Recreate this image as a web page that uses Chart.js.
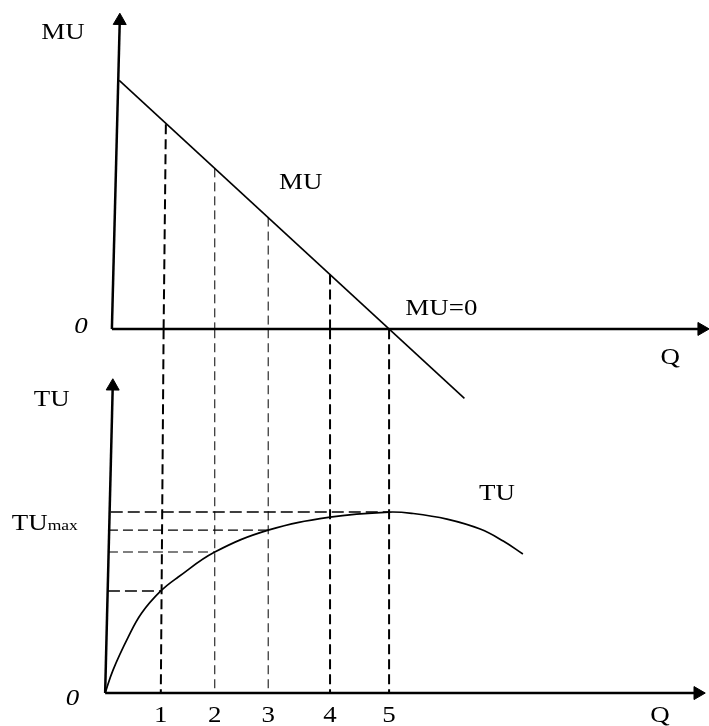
<!DOCTYPE html>
<html>
<head>
<meta charset="utf-8">
<script src="https://cdn.jsdelivr.net/npm/chart.js@4.4.0/dist/chart.umd.min.js"></script>
<style>
  body { margin: 0; background: #fff; }
  #wrap { width: 709px; height: 726px; }
</style>
</head>
<body>
<div id="wrap"><canvas id="chart"></canvas></div>
<script>
// Q positions of the five dashed guides (guide 1 leans a little)
const qTicks = ['1', '2', '3', '4', '5'];
const qTop = [1.03, 1.90, 2.85, 3.95, 5.00];
const qMid = [0.99, 1.90, 2.85, 3.95, 5.00];
const qBottom = [0.94, 1.90, 2.85, 3.95, 5.00];
const heavyGuide = [true, false, false, true, true];

// MU panel
const muLineQ = [0.2, 6.34];
const muLineVal = [9.6, -2.68];
const muAtGuide = [7.9, 6.2, 4.3, 2.1, 0];

// TU panel
const tuQ = [-0.05, 0.09, 0.36, 0.60, 0.94, 1.25, 1.90, 2.85, 3.95, 5.00, 5.43, 6.03, 6.62, 7.03, 7.38];
const tuVal = [0, 1.27, 3.09, 4.42, 5.64, 6.41, 7.79, 9.0, 9.72, 10.0, 9.92, 9.61, 9.06, 8.40, 7.68];
const tuLevelQ = [0.94, 1.90, 2.85, 5.00]; // horizontal guides for Q = 1, 2, 3, 5
const tuLevelVal = [5.64, 7.79, 9.0, 10.0];
const tuLevelStart = [0.0, 0.0, 0.0, 0.05];
const heavyLevel = [true, false, false, true];
const tuAtMuAxis = 20.1; // TU value level with the MU panel's Q axis

// axes (origin -> end of shaft), arrow heads
const muAxisY = [{x: 0.07, y: 0}, {x: 0.21, y: 11.9}];
const muAxisX = [{x: 0.07, y: 0}, {x: 10.5, y: 0}];
const tuAxisY = [{x: -0.05, y: 0}, {x: 0.085, y: 16.95}];
const tuAxisX = [{x: -0.05, y: 0}, {x: 10.45, y: 0}];

const SERIF = '"Liberation Serif", "Times New Roman", serif';
const STRETCH = 1.17;

function pts(xs, ys) {
    return xs.map((x, i) => ({x: x, y: ys[i]}));
}

function line(data, axis, width, dash) {
    return {
        data: data,
        yAxisID: axis,
        showLine: true,
        borderColor: '#000',
        borderWidth: width,
        borderDash: dash || [],
        pointRadius: 0,
        fill: false,
        clip: false
    };
}

function arrow(point, axis, rot) {
    return {
        data: [point],
        yAxisID: axis,
        showLine: false,
        pointStyle: 'triangle',
        pointRadius: 7.5,
        rotation: rot,
        backgroundColor: '#000',
        borderColor: '#000',
        borderWidth: 1,
        clip: false
    };
}

const datasets = [];

// dashed guides
qTicks.forEach((t, i) => {
    const w = heavyGuide[i] ? 2 : 1;
    const d = heavyGuide[i] ? [10, 5] : [9, 5];
    datasets.push(line([{x: qTop[i], y: muAtGuide[i]}, {x: qMid[i], y: 0}], 'yMU', w, d));
    datasets.push(line([{x: qMid[i], y: tuAtMuAxis}, {x: qBottom[i], y: 0}], 'yTU', w, d));
});
tuLevelVal.forEach((v, i) => {
    datasets.push(line([{x: tuLevelStart[i], y: v}, {x: tuLevelQ[i], y: v}], 'yTU',
        heavyLevel[i] ? 1.6 : 1.1, heavyLevel[i] ? [12, 5] : [10, 5]));
});

// curves
datasets.push(line(pts(muLineQ, muLineVal), 'yMU', 1.6));
const tuCurve = line(pts(tuQ, tuVal), 'yTU', 1.7);
tuCurve.tension = 0.4;
datasets.push(tuCurve);

// axes
datasets.push(line(muAxisY, 'yMU', 2.5));
datasets.push(line(muAxisX, 'yMU', 2.5));
datasets.push(line(tuAxisY, 'yTU', 2.5));
datasets.push(line(tuAxisX, 'yTU', 2.5));
datasets.push(arrow(muAxisY[1], 'yMU', 0.7));
datasets.push(arrow({x: 10.56, y: 0}, 'yMU', 90));
datasets.push(arrow(tuAxisY[1], 'yTU', 0.7));
datasets.push(arrow({x: 10.49, y: 0}, 'yTU', 90));

// text labels, placed at (Q, value) on the given axis, y is the baseline
const labels = [
    {text: 'MU', q: -0.80, v: 11.18, axis: 'yMU'},
    {text: '0', q: -0.48, v: -0.17, axis: 'yMU', italic: true},
    {text: 'MU', q: 3.43, v: 5.42, axis: 'yMU'},
    {text: 'MU=0', q: 5.93, v: 0.52, axis: 'yMU'},
    {text: 'Q', q: 10.0, v: -1.35, axis: 'yMU'},
    {text: 'TU', q: -1.0, v: 15.88, axis: 'yTU'},
    {text: 'TU', q: 6.92, v: 10.69, axis: 'yTU'},
    {text: '0', q: -0.63, v: -0.64, axis: 'yTU', italic: true},
    {text: 'Q', q: 9.82, v: -1.60, axis: 'yTU'}
];
qTicks.forEach((t, i) => labels.push({text: t, q: qBottom[i], v: -1.60, axis: 'yTU'}));

function drawText(ctx, text, x, y, size, italic, align) {
    ctx.save();
    ctx.font = (italic ? 'italic ' : '') + size + 'px ' + SERIF;
    ctx.textAlign = align;
    ctx.textBaseline = 'alphabetic';
    ctx.fillStyle = '#000';
    ctx.translate(x, y);
    ctx.scale(STRETCH, 1);
    ctx.fillText(text, 0, 0);
    const w = ctx.measureText(text).width * STRETCH;
    ctx.restore();
    return w;
}

const textPlugin = {
    id: 'textLabels',
    afterDatasetsDraw(chart) {
        const ctx = chart.ctx;
        const xs = chart.scales.x;
        labels.forEach(l => {
            const px = xs.getPixelForValue(l.q);
            const py = chart.scales[l.axis].getPixelForValue(l.v);
            drawText(ctx, l.text, px, py, 23, l.italic, 'center');
        });
        // TU max with subscript
        const px = xs.getPixelForValue(-1.71);
        const py = chart.scales.yTU.getPixelForValue(9.0);
        const w = drawText(ctx, 'TU', px, py, 23, false, 'left');
        drawText(ctx, 'max', px + w, py, 15, false, 'left');
    }
};

new Chart(document.getElementById('chart'), {
    type: 'scatter',
    data: {datasets: datasets},
    options: {
        responsive: true,
        maintainAspectRatio: false,
        animation: false,
        events: [],
        layout: {padding: 0, autoPadding: false},
        plugins: {
            legend: {display: false},
            tooltip: {enabled: false}
        },
        scales: {
            x: {type: 'linear', display: false, min: -1.92, max: 10.69},
            yMU: {type: 'linear', display: false, min: -15.33, max: 12.70},
            yTU: {type: 'linear', display: false, min: -1.82, max: 38.29}
        }
    },
    plugins: [textPlugin]
});
</script>
</body>
</html>
